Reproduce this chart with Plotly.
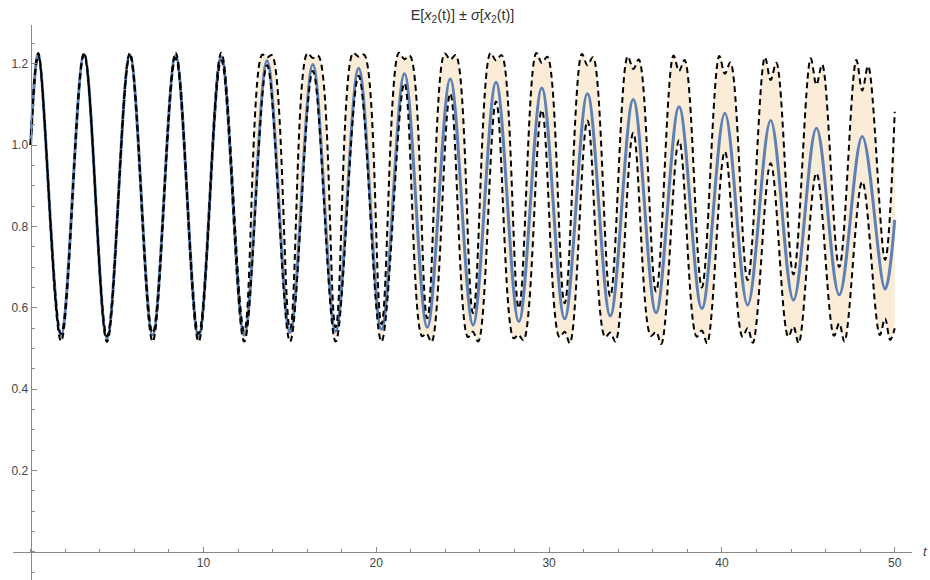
import plotly.graph_objects as go

# Mean E[x2(t)]: start value, then alternating peaks and troughs, then end value
mean_t = [0.0,
          0.44, 1.76, 3.09, 4.42, 5.74, 7.06, 8.39, 9.72, 11.03, 12.36,
          13.68, 15.01, 16.33, 17.65, 18.98, 20.30, 21.63, 22.95, 24.28, 25.60,
          26.93, 28.25, 29.58, 30.90, 32.22, 33.54, 34.87, 36.19, 37.52, 38.84,
          40.17, 41.49, 42.82, 44.14, 45.47, 46.79, 48.12, 49.44,
          50.0]
mean_v = [1.000,
          1.223, 0.532, 1.223, 0.525, 1.222, 0.533, 1.220, 0.529, 1.217, 0.533,
          1.207, 0.539, 1.198, 0.542, 1.189, 0.547, 1.175, 0.552, 1.162, 0.558,
          1.154, 0.566, 1.140, 0.573, 1.126, 0.580, 1.112, 0.588, 1.094, 0.598,
          1.078, 0.607, 1.060, 0.619, 1.041, 0.632, 1.021, 0.646,
          0.816]

# Upper curve E + sigma
upper_t = [0.0,
           0.44, 1.76, 3.09, 4.42, 5.74, 7.06, 8.39, 9.72, 11.03, 12.36,
           13.40, 13.68, 13.96, 15.01,
           16.01, 16.33, 16.65, 17.65,
           18.66, 18.98, 19.30, 20.30,
           21.31, 21.63, 21.95, 22.95,
           23.96, 24.28, 24.60, 25.60,
           26.61, 26.93, 27.25, 28.25,
           29.26, 29.58, 29.90, 30.90,
           31.90, 32.22, 32.54, 33.54,
           34.55, 34.87, 35.19, 36.19,
           37.20, 37.52, 37.84, 38.84,
           39.85, 40.17, 40.49, 41.49,
           42.49, 42.82, 43.15, 44.14,
           45.14, 45.47, 45.80, 46.79,
           47.78, 48.12, 48.46, 49.44,
           50.0]
upper_v = [1.000,
           1.226, 0.536, 1.226, 0.530, 1.226, 0.538, 1.227, 0.536, 1.227, 0.542,
           1.222, 1.215, 1.221, 0.548,
           1.225, 1.214, 1.219, 0.552,
           1.226, 1.217, 1.222, 0.560,
           1.227, 1.211, 1.219, 0.574,
           1.225, 1.210, 1.221, 0.587,
           1.226, 1.208, 1.221, 0.599,
           1.226, 1.202, 1.217, 0.611,
           1.224, 1.196, 1.216, 0.628,
           1.218, 1.187, 1.210, 0.640,
           1.220, 1.182, 1.209, 0.650,
           1.219, 1.175, 1.203, 0.668,
           1.216, 1.160, 1.202, 0.682,
           1.213, 1.148, 1.198, 0.700,
           1.209, 1.134, 1.194, 0.718,
           1.082]

# Lower curve E - sigma
lower_t = [0.0,
           0.44, 1.76, 3.09, 4.42, 5.74, 7.06, 8.39, 9.72, 11.03, 12.36,
           13.68, 15.01, 16.33, 17.65, 18.98, 20.30,
           21.63, 22.65, 22.90, 23.20,
           24.28, 25.30, 25.58, 25.90,
           26.93, 27.95, 28.22, 28.52,
           29.58, 30.60, 30.90, 31.20,
           32.22, 33.24, 33.54, 33.84,
           34.87, 35.89, 36.19, 36.49,
           37.52, 38.54, 38.84, 39.14,
           40.17, 41.19, 41.49, 41.79,
           42.82, 43.84, 44.14, 44.44,
           45.47, 46.49, 46.79, 47.09,
           48.12, 49.14, 49.44, 49.74,
           50.0]
lower_v = [1.000,
           1.220, 0.518, 1.221, 0.516, 1.219, 0.517, 1.214, 0.517, 1.208, 0.517,
           1.196, 0.517, 1.182, 0.517, 1.170, 0.517,
           1.152, 0.530, 0.537, 0.516,
           1.127, 0.528, 0.541, 0.517,
           1.107, 0.525, 0.534, 0.520,
           1.086, 0.528, 0.541, 0.513,
           1.060, 0.528, 0.539, 0.517,
           1.030, 0.531, 0.541, 0.511,
           1.012, 0.529, 0.544, 0.513,
           0.984, 0.529, 0.550, 0.514,
           0.955, 0.529, 0.554, 0.513,
           0.931, 0.531, 0.562, 0.517,
           0.910, 0.533, 0.574, 0.521,
           0.550]

x_ticks = [10, 20, 30, 40, 50]
y_ticks = [0.2, 0.4, 0.6, 0.8, 1.0, 1.2]
y_ticktext = ["0.2", "0.4", "0.6", "0.8", "1.0", "1.2"]

x_range = [-1.02, 51.0]
y_range = [-0.069, 1.295]

FONT = "Liberation Sans, Arial, sans-serif"
BAND = "rgb(250,236,215)"
BLUE = "rgb(94,129,181)"
AXIS = "#8a8a8a"

fig = go.Figure()

# band between the lower and upper curves
fig.add_trace(go.Scatter(x=lower_t, y=lower_v, mode="lines",
                         line=dict(width=0, shape="spline", smoothing=1.0),
                         hoverinfo="skip", showlegend=False))
fig.add_trace(go.Scatter(x=upper_t, y=upper_v, mode="lines", fill="tonexty",
                         fillcolor=BAND,
                         line=dict(width=0, shape="spline", smoothing=1.0),
                         hoverinfo="skip", showlegend=False))

# mean
fig.add_trace(go.Scatter(x=mean_t, y=mean_v, mode="lines",
                         line=dict(color=BLUE, width=3, shape="spline", smoothing=1.0),
                         showlegend=False))

# dashed mean +/- sigma
for tt, vv in ((upper_t, upper_v), (lower_t, lower_v)):
    fig.add_trace(go.Scatter(x=tt, y=vv, mode="lines",
                             line=dict(color="black", width=2, dash="6px,4px",
                                       shape="spline", smoothing=1.0),
                             showlegend=False))

x0_frac = (0 - x_range[0]) / (x_range[1] - x_range[0])
y0_frac = (0 - y_range[0]) / (y_range[1] - y_range[0])

fig.update_layout(
    width=930, height=580,
    margin=dict(l=13, r=18, t=25, b=0),
    paper_bgcolor="white", plot_bgcolor="white",
    font=dict(family=FONT, size=12, color="#444"),
    title=dict(text="E[<i>x</i><sub>2</sub>(t)] ± <i>σ</i>[<i>x</i><sub>2</sub>(t)]",
               x=0.5, xref="paper", xanchor="center",
               y=1 - 15 / 580, yref="container", yanchor="middle",
               font=dict(family=FONT, size=14.5, color="#333")),
    xaxis=dict(range=x_range, anchor="free", position=y0_frac,
               showgrid=False, zeroline=False,
               showline=True, linecolor=AXIS, linewidth=1.2,
               tickmode="array", tickvals=x_ticks,
               ticks="inside", ticklen=5, tickcolor=AXIS, tickwidth=1,
               minor=dict(tickmode="linear", tick0=0, dtick=2, ticks="inside",
                          ticklen=3, tickcolor=AXIS, tickwidth=1, showgrid=False),
               tickfont=dict(family=FONT, size=12, color="#444")),
    yaxis=dict(range=y_range, anchor="free", position=x0_frac,
               showgrid=False, zeroline=False,
               showline=True, linecolor=AXIS, linewidth=1.2,
               tickmode="array", tickvals=y_ticks, ticktext=y_ticktext,
               ticks="inside", ticklen=5, tickcolor=AXIS, tickwidth=1,
               minor=dict(tickmode="linear", tick0=0, dtick=0.05, ticks="inside",
                          ticklen=3, tickcolor=AXIS, tickwidth=1, showgrid=False),
               tickfont=dict(family=FONT, size=12, color="#444")),
)

fig.add_annotation(text="<i>t</i>", xref="paper", yref="paper",
                   x=(925 - 13) / 899, y=y0_frac, xanchor="center", yanchor="middle",
                   showarrow=False, font=dict(family=FONT, size=13, color="#444"))

fig.write_html("out.html")
